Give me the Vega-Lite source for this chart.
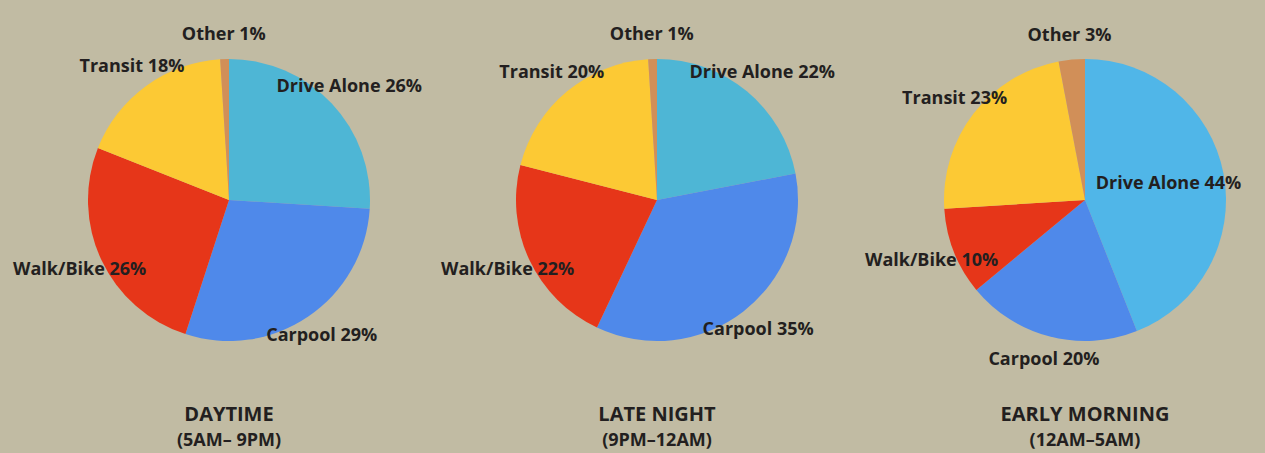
{
  "$schema": "https://vega.github.io/schema/vega-lite/v6.json",
  "background": "#c1bba3",
  "padding": {"left": 13, "top": 0, "right": 0, "bottom": 10},
  "spacing": 0,
  "bounds": "flush",
  "data": {"values": [
    {"period": "DAYTIME", "mode": "Drive Alone", "pct": 26},
    {"period": "DAYTIME", "mode": "Carpool", "pct": 29},
    {"period": "DAYTIME", "mode": "Walk/Bike", "pct": 26},
    {"period": "DAYTIME", "mode": "Transit", "pct": 18},
    {"period": "DAYTIME", "mode": "Other", "pct": 1},
    {"period": "LATE NIGHT", "mode": "Drive Alone", "pct": 22},
    {"period": "LATE NIGHT", "mode": "Carpool", "pct": 35},
    {"period": "LATE NIGHT", "mode": "Walk/Bike", "pct": 22},
    {"period": "LATE NIGHT", "mode": "Transit", "pct": 20},
    {"period": "LATE NIGHT", "mode": "Other", "pct": 1},
    {"period": "EARLY MORNING", "mode": "Drive Alone", "pct": 44},
    {"period": "EARLY MORNING", "mode": "Carpool", "pct": 20},
    {"period": "EARLY MORNING", "mode": "Walk/Bike", "pct": 10},
    {"period": "EARLY MORNING", "mode": "Transit", "pct": 23},
    {"period": "EARLY MORNING", "mode": "Other", "pct": 3}
  ]},
  "hconcat": [
    {
      "width": 428, "height": 400,
      "title": {"text": "DAYTIME", "subtitle": "(5AM– 9PM)"},
      "transform": [
        {"filter": "datum.period == 'DAYTIME'"},
        {"calculate": "indexof(['Drive Alone','Carpool','Walk/Bike','Transit','Other'], datum.mode)", "as": "rank"},
        {"calculate": "datum.mode + ' ' + datum.pct + '%'", "as": "label"}
      ],
      "encoding": {
        "theta": {"field": "pct", "type": "quantitative", "stack": true},
        "order": {"field": "rank", "type": "quantitative"}
      },
      "layer": [
        {"mark": {"type": "arc", "radius": 141},
         "encoding": {"color": {"condition": {"test": "datum.period == 'EARLY MORNING' && datum.mode == 'Drive Alone'", "value": "#50b6e8"}, "field": "mode", "type": "nominal", "legend": null,
           "scale": {"domain": ["Drive Alone", "Carpool", "Walk/Bike", "Transit", "Other"], "range": ["#4eb6d5", "#4f89ea", "#e63619", "#fcc934", "#d18f58"]}}}},
        {"mark": {"type": "text", "radius": {"expr": "datum.pct > 40 ? 85 : 165"}, "fontSize": 18, "fontWeight": "bold", "font": "Open Sans", "color": "#231f20", "align": "center", "baseline": "middle"},
         "encoding": {"text": {"field": "label", "type": "nominal"}}}
      ]
    },
    {
      "width": 428, "height": 400,
      "title": {"text": "LATE NIGHT", "subtitle": "(9PM–12AM)"},
      "transform": [
        {"filter": "datum.period == 'LATE NIGHT'"},
        {"calculate": "indexof(['Drive Alone','Carpool','Walk/Bike','Transit','Other'], datum.mode)", "as": "rank"},
        {"calculate": "datum.mode + ' ' + datum.pct + '%'", "as": "label"}
      ],
      "encoding": {
        "theta": {"field": "pct", "type": "quantitative", "stack": true},
        "order": {"field": "rank", "type": "quantitative"}
      },
      "layer": [
        {"mark": {"type": "arc", "radius": 141},
         "encoding": {"color": {"condition": {"test": "datum.period == 'EARLY MORNING' && datum.mode == 'Drive Alone'", "value": "#50b6e8"}, "field": "mode", "type": "nominal", "legend": null,
           "scale": {"domain": ["Drive Alone", "Carpool", "Walk/Bike", "Transit", "Other"], "range": ["#4eb6d5", "#4f89ea", "#e63619", "#fcc934", "#d18f58"]}}}},
        {"mark": {"type": "text", "radius": {"expr": "datum.pct > 40 ? 85 : 165"}, "fontSize": 18, "fontWeight": "bold", "font": "Open Sans", "color": "#231f20", "align": "center", "baseline": "middle"},
         "encoding": {"text": {"field": "label", "type": "nominal"}}}
      ]
    },
    {
      "width": 428, "height": 400,
      "title": {"text": "EARLY MORNING", "subtitle": "(12AM–5AM)"},
      "transform": [
        {"filter": "datum.period == 'EARLY MORNING'"},
        {"calculate": "indexof(['Drive Alone','Carpool','Walk/Bike','Transit','Other'], datum.mode)", "as": "rank"},
        {"calculate": "datum.mode + ' ' + datum.pct + '%'", "as": "label"}
      ],
      "encoding": {
        "theta": {"field": "pct", "type": "quantitative", "stack": true},
        "order": {"field": "rank", "type": "quantitative"}
      },
      "layer": [
        {"mark": {"type": "arc", "radius": 141},
         "encoding": {"color": {"condition": {"test": "datum.period == 'EARLY MORNING' && datum.mode == 'Drive Alone'", "value": "#50b6e8"}, "field": "mode", "type": "nominal", "legend": null,
           "scale": {"domain": ["Drive Alone", "Carpool", "Walk/Bike", "Transit", "Other"], "range": ["#4eb6d5", "#4f89ea", "#e63619", "#fcc934", "#d18f58"]}}}},
        {"mark": {"type": "text", "radius": {"expr": "datum.pct > 40 ? 85 : 165"}, "fontSize": 18, "fontWeight": "bold", "font": "Open Sans", "color": "#231f20", "align": "center", "baseline": "middle"},
         "encoding": {"text": {"field": "label", "type": "nominal"}}}
      ]
    }
  ],
  "config": {
    "view": {"stroke": null},
    "font": "Open Sans",
    "title": {"orient": "bottom", "anchor": "middle", "offset": 5, "font": "Open Sans", "fontSize": 20, "fontWeight": "bold", "color": "#231f20",
      "subtitleFont": "Open Sans", "subtitleFontSize": 18, "subtitleFontWeight": "bold", "subtitleColor": "#231f20", "subtitlePadding": 7}
  }
}
